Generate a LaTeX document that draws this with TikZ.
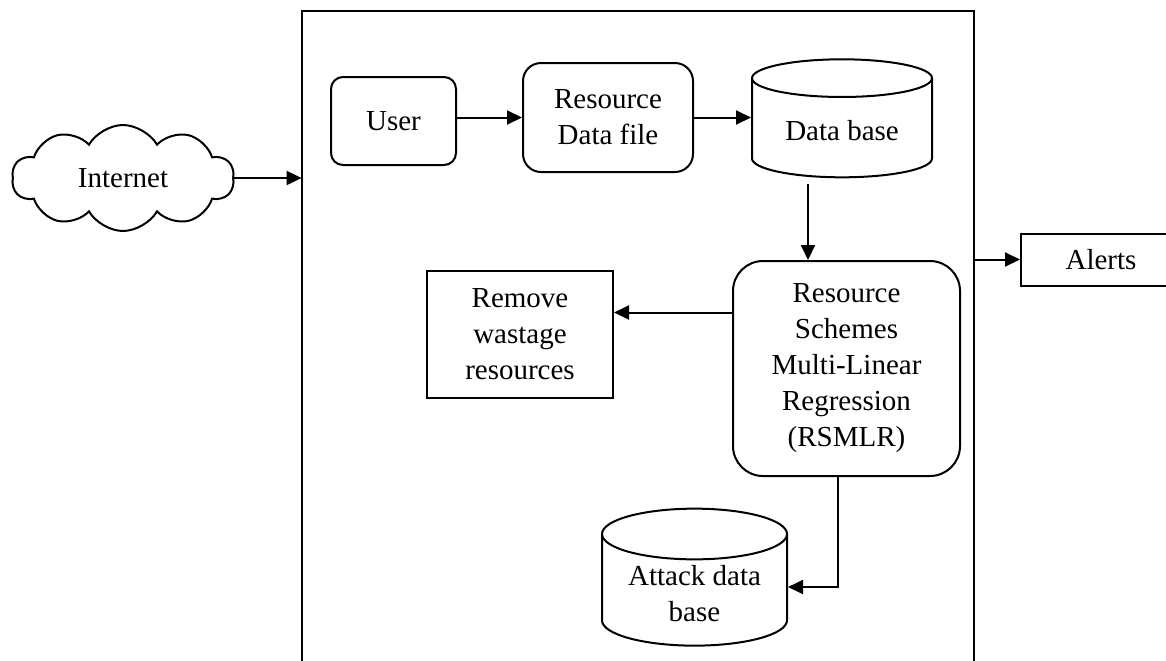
\documentclass[tikz,border=0pt]{standalone}
\usepackage{fontspec}
\setmainfont{Liberation Serif}
\usetikzlibrary{arrows.meta,shapes.geometric,shapes.symbols}
\tikzset{
  >={Triangle[length=7.5pt,width=7pt]},
  every node/.style={font=\fontsize{14.5}{18}\selectfont},
  block/.style={rectangle, draw=black, line width=1pt, align=center, inner sep=2pt},
  roundblock/.style={block, rounded corners=6pt},
  dbase/.style={cylinder, shape border rotate=90, draw=black, line width=1pt, align=center, inner sep=2pt},
  net/.style={cloud, cloud puffs=10, cloud puff arc=120, cloud ignores aspect, draw=black, line width=1pt, align=center},
  line/.style={draw, line width=1pt, ->},
}
\begin{document}
\begin{tikzpicture}[x=0.5pt, y=-0.5pt]
  \useasboundingbox (0,0) rectangle (1166,660);
  % system frame, open at the bottom
  \node[minimum width=336pt, minimum height=335pt, inner sep=0pt] (frame) at (638,346) {};
  \draw[line width=1pt] (frame.south west) |- (frame.north east) -- (frame.south east);

  \node[net, minimum width=111pt, minimum height=53pt] (inet) at (123,178) {Internet};
  \node[roundblock, minimum width=62.5pt, minimum height=44pt] (user) at (393.5,121) {User};
  \node[roundblock, rounded corners=9pt, minimum width=85pt, minimum height=54.5pt] (rdf) at (608,117.5) {Resource\\Data file};
  \node[dbase, minimum width=90pt, minimum height=59pt, shape aspect=0.31] (db) at (842,131) {Data base};
  \node[roundblock, rounded corners=15pt, minimum width=113.5pt, minimum height=107.5pt] (rsmlr) at (846.5,368.5)
    {Resource\\Schemes\\Multi-Linear\\Regression\\(RSMLR)};
  \node[block, minimum width=93pt, minimum height=63.5pt] (remove) at (520,334.5) {Remove\\wastage\\resources};
  \node[dbase, minimum width=92.5pt, minimum height=68.5pt, shape aspect=0.36] (attack) at (694.5,594) {Attack data\\base};
  \node[block, minimum width=80pt, minimum height=26pt] (alerts) at (1101,259.5) {Alerts};

  \path[line] (inet.east) -- (inet.east -| frame.west);
  \path[line] (user.east |- rdf.west) -- (rdf.west);
  \path[line] (rdf.east) -- (rdf.east -| db.west);
  \path[line, shorten <=3pt] ([xshift=-17pt]db.south) coordinate (d1) -- (d1 |- rsmlr.north);
  \path[line] ([yshift=28pt]rsmlr.west) coordinate (r1) -- (r1 -| remove.east);
  \path[line] ([xshift=-4.25pt]rsmlr.south) |- ([yshift=3.5pt]attack.east);
  \path[line] (frame.east |- alerts.west) -- (alerts.west);
\end{tikzpicture}
\end{document}
